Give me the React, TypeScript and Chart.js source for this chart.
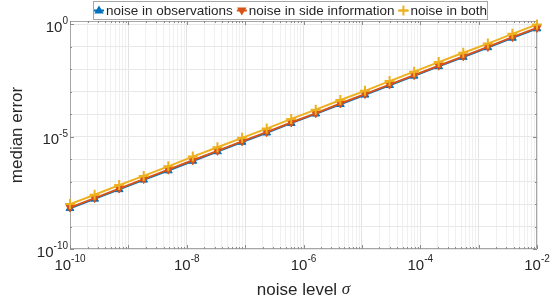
import React, { useEffect, useRef } from "react";
import { Chart, registerables } from "chart.js";

Chart.register(...registerables);

const sigma = [
  1e-10, 2.64e-10, 6.95e-10, 1.83e-9, 4.83e-9, 1.27e-8, 3.36e-8, 8.86e-8, 2.34e-7, 6.16e-7,
  1.62e-6, 4.28e-6, 1.13e-5, 2.98e-5, 7.85e-5, 2.07e-4, 5.46e-4, 1.44e-3, 3.79e-3, 1e-2,
];
const obsErr = [
  6.5e-9, 1.7e-8, 4.5e-8, 1.2e-7, 3.1e-7, 8.3e-7, 2.2e-6, 5.8e-6, 1.5e-5, 4.0e-5,
  1.05e-4, 2.8e-4, 7.3e-4, 1.95e-3, 5.1e-3, 1.35e-2, 3.5e-2, 9.4e-2, 0.25, 0.65,
];
const sideErr = [
  7e-9, 1.85e-8, 4.9e-8, 1.3e-7, 3.4e-7, 8.9e-7, 2.35e-6, 6.2e-6, 1.6e-5, 4.3e-5,
  1.1e-4, 3.0e-4, 7.9e-4, 2.1e-3, 5.5e-3, 1.45e-2, 3.8e-2, 0.1, 0.27, 0.7,
];
const bothErr = [
  1e-8, 2.6e-8, 7.0e-8, 1.8e-7, 4.8e-7, 1.3e-6, 3.4e-6, 8.9e-6, 2.3e-5, 6.2e-5,
  1.6e-4, 4.3e-4, 1.1e-3, 3.0e-3, 7.9e-3, 2.1e-2, 5.5e-2, 0.14, 0.38, 1.0,
];
const seriesLabels = ["noise in observations", "noise in side information", "noise in both"];
const seriesColors = ["#0072BD", "#D95319", "#EDB120"];
const xTickExps = [-10, -8, -6, -4, -2];
const yTickExps = [-10, -5, 0];
const xTitle = "noise level ";
const xTitleSym = "σ";
const yTitle = "median error";

const FONT = "'Liberation Sans', Arial, sans-serif";
const TXT = "#262626";
const AXIS = "#a6a6a6";

function drawMarker(ctx: CanvasRenderingContext2D, kind: number, x: number, y: number, r: number, color: string) {
  ctx.save();
  ctx.fillStyle = color;
  ctx.strokeStyle = color;
  ctx.lineWidth = 2;
  if (kind === 0) {
    ctx.beginPath();
    ctx.moveTo(x, y - r);
    ctx.lineTo(x + r * 0.95, y + r * 0.6);
    ctx.lineTo(x - r * 0.95, y + r * 0.6);
    ctx.closePath();
    ctx.fill();
  } else if (kind === 1) {
    ctx.beginPath();
    ctx.moveTo(x, y + r);
    ctx.lineTo(x + r * 0.95, y - r * 0.6);
    ctx.lineTo(x - r * 0.95, y - r * 0.6);
    ctx.closePath();
    ctx.fill();
  } else {
    ctx.beginPath();
    ctx.moveTo(x - r, y);
    ctx.lineTo(x + r, y);
    ctx.moveTo(x, y - r);
    ctx.lineTo(x, y + r);
    ctx.stroke();
  }
  ctx.restore();
}

function drawPow(ctx: CanvasRenderingContext2D, exp: number, x: number, y: number, align: "center" | "right") {
  ctx.font = `15px ${FONT}`;
  const base = "10";
  const bw = ctx.measureText(base).width;
  ctx.font = `10px ${FONT}`;
  const es = String(exp);
  const ew = ctx.measureText(es).width;
  const total = bw + ew;
  const left = align === "center" ? x - total / 2 : x - total;
  ctx.fillStyle = TXT;
  ctx.textBaseline = "alphabetic";
  ctx.textAlign = "left";
  ctx.font = `15px ${FONT}`;
  ctx.fillText(base, left, y + 5.5);
  ctx.font = `10px ${FONT}`;
  ctx.fillText(es, left + bw, y - 2);
}

const overlay = {
  id: "overlay",
  beforeDatasetsDraw(chart: any) {
    const { ctx, chartArea: a, scales } = chart;
    const xs = scales.x;
    const ys = scales.y;
    ctx.save();
    ctx.strokeStyle = AXIS;
    ctx.lineWidth = 1;
    ctx.beginPath();
    ctx.rect(a.left + 0.5, a.top + 0.5, a.right - a.left - 1, a.bottom - a.top - 1);
    ctx.stroke();
    // inward ticks
    ctx.strokeStyle = "#8c8c8c";
    ctx.beginPath();
    for (let e = -10; e <= -2; e++) {
      for (let m = 1; m <= 9; m++) {
        const v = m * Math.pow(10, e);
        if (v > 1e-2 * 1.0001) continue;
        const px = Math.round(xs.getPixelForValue(v)) + 0.5;
        const len = m === 1 ? 4 : 2;
        ctx.moveTo(px, a.bottom);
        ctx.lineTo(px, a.bottom - len);
        ctx.moveTo(px, a.top);
        ctx.lineTo(px, a.top + len);
      }
    }
    for (let e = -10; e <= 0; e++) {
      const py = Math.round(ys.getPixelForValue(Math.pow(10, e))) + 0.5;
      const len = e % 5 === 0 ? 4 : 2;
      ctx.moveTo(a.left, py);
      ctx.lineTo(a.left + len, py);
      ctx.moveTo(a.right, py);
      ctx.lineTo(a.right - len, py);
    }
    ctx.stroke();
    ctx.restore();
  },
  afterDraw(chart: any) {
    const { ctx, chartArea: a, scales } = chart;
    const xs = scales.x;
    const ys = scales.y;
    ctx.save();
    // x tick labels
    xTickExps.forEach((e) => {
      drawPow(ctx, e, xs.getPixelForValue(Math.pow(10, e)), 264, "center");
    });
    yTickExps.forEach((e) => {
      drawPow(ctx, e, a.left - 2, ys.getPixelForValue(Math.pow(10, e)) + 2, "right");
    });
    // axis titles
    ctx.fillStyle = TXT;
    ctx.font = `17px ${FONT}`;
    const w1 = ctx.measureText(xTitle).width;
    ctx.font = `italic 17px 'Liberation Serif', serif`;
    const w2 = ctx.measureText(xTitleSym).width;
    const cx = (a.left + a.right) / 2;
    let sx = cx - (w1 + w2) / 2;
    ctx.textAlign = "left";
    ctx.textBaseline = "middle";
    ctx.font = `17px ${FONT}`;
    ctx.fillText(xTitle, sx, 290);
    ctx.font = `italic 17px 'Liberation Serif', serif`;
    ctx.fillText(xTitleSym, sx + w1, 290);

    ctx.save();
    ctx.translate(17, (a.top + a.bottom) / 2);
    ctx.rotate(-Math.PI / 2);
    ctx.textAlign = "center";
    ctx.font = `17px ${FONT}`;
    ctx.fillText(yTitle, 0, 0);
    ctx.restore();

    // legend
    const lx = 93.5, ly = 1.5, lw = 394, lh = 18;
    ctx.fillStyle = "#ffffff";
    ctx.fillRect(lx, ly, lw, lh);
    ctx.strokeStyle = AXIS;
    ctx.lineWidth = 1;
    ctx.strokeRect(lx, ly, lw, lh);
    ctx.font = `13.5px ${FONT}`;
    ctx.textBaseline = "middle";
    let x = 98;
    const cy = 10.5;
    seriesLabels.forEach((lab, i) => {
      ctx.strokeStyle = seriesColors[i];
      ctx.lineWidth = 2;
      ctx.beginPath();
      ctx.moveTo(x - 4, cy);
      ctx.lineTo(x + 6, cy);
      ctx.stroke();
      drawMarker(ctx, i, x + 1, cy, 5, seriesColors[i]);
      ctx.fillStyle = TXT;
      ctx.fillText(lab, x + 8, cy + 0.5);
      x = x + 8 + ctx.measureText(lab).width + 8;
    });
    ctx.restore();
  },
};

function buildTicks(minE: number, maxE: number, maxV: number, minors: boolean) {
  const t: any[] = [];
  for (let e = minE; e <= maxE; e++) {
    for (let m = 1; m <= (minors ? 9 : 1); m++) {
      const v = m * Math.pow(10, e);
      if (v > maxV * 1.0001) continue;
      t.push({ value: v, major: m === 1 });
    }
  }
  return t;
}

export default function App() {
  const ref = useRef<HTMLCanvasElement | null>(null);
  useEffect(() => {
    if (!ref.current) return;
    const mk = (i: number, data: number[], style: string, rot: number, order: number) => ({
      label: seriesLabels[i],
      data: sigma.map((s, k) => ({ x: s, y: data[k] })),
      borderColor: seriesColors[i],
      backgroundColor: seriesColors[i],
      borderWidth: 2,
      pointStyle: style,
      pointRotation: rot,
      pointRadius: style === "cross" ? 5 : 4.5,
      pointBorderWidth: style === "cross" ? 2 : 1,
      pointBackgroundColor: seriesColors[i],
      pointBorderColor: seriesColors[i],
      tension: 0,
      clip: false as any,
      order,
    });
    const chart = new Chart(ref.current, {
      type: "line",
      data: {
        datasets: [
          mk(0, obsErr, "triangle", 0, 3),
          mk(1, sideErr, "triangle", 180, 2),
          mk(2, bothErr, "cross", 0, 1),
        ] as any,
      },
      plugins: [overlay],
      options: {
        animation: false,
        responsive: false,
        devicePixelRatio: 1,
        layout: { padding: { top: 21, right: 14, left: 0, bottom: 0 } },
        plugins: { legend: { display: false }, tooltip: { enabled: false } },
        scales: {
          x: {
            type: "logarithmic",
            min: 1e-10,
            max: 1e-2,
            ticks: { display: false },
            border: { display: false },
            grid: {
              drawTicks: false,
              color: (c: any) => (c.tick && c.tick.major ? "#e3e3e3" : "#f0f0f0"),
            },
            afterBuildTicks: (s: any) => {
              s.ticks = buildTicks(-10, -2, 1e-2, true);
            },
            afterFit: (s: any) => {
              s.height = 51;
            },
          },
          y: {
            type: "logarithmic",
            min: 1e-10,
            max: 1.42,
            ticks: { display: false },
            border: { display: false },
            grid: { drawTicks: false, color: "#e8e8e8" },
            afterBuildTicks: (s: any) => {
              s.ticks = buildTicks(-10, 0, 1.42, false);
            },
            afterFit: (s: any) => {
              s.width = 70;
            },
          },
        },
      } as any,
    });
    return () => chart.destroy();
  }, []);
  return (
    <div style={{ position: "fixed", left: 0, top: 0, width: 551, height: 300, background: "#fff" }}>
      <canvas ref={ref} width={551} height={300} style={{ width: 551, height: 300 }} />
    </div>
  );
}
